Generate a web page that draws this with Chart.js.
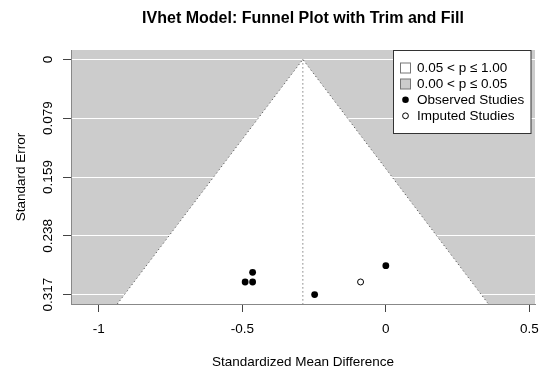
<!DOCTYPE html>
<html>
<head>
<meta charset="utf-8">
<script src="https://cdn.jsdelivr.net/npm/chart.js@4"></script>
<style>
  body { margin: 0; background: #fff; }
  #wrap { width: 550px; height: 375px; }
</style>
</head>
<body>
<div id="wrap"><canvas id="funnel"></canvas></div>
<script>
// datos
const observedSMD = [-0.490, -0.464, -0.464, -0.248, 0.000];
const observedSE = [0.300, 0.300, 0.287, 0.317, 0.278];
const imputedSMD = [-0.088];
const imputedSE = [0.300];
const estimate = -0.289;
const seTicks = [0, 0.07925, 0.1585, 0.23775, 0.317];
const seTickLabels = ['0', '0.079', '0.159', '0.238', '0.317'];
const smdTicks = [-1, -0.5, 0, 0.5];
const smdTickLabels = ['-1', '-0.5', '0', '0.5'];
const legendLabels = ['0.05 < p \u2264 1.00', '0.00 < p \u2264 0.05', 'Observed Studies', 'Imputed Studies'];

const seMin = -0.04 * 0.317;
const seMax = 1.04 * 0.317;
const xMin = -1.0965, xMax = 0.5195;
const shade = '#cccccc';

Chart.defaults.font.family = "'Liberation Sans', Arial, sans-serif";
Chart.defaults.font.size = 13.5;
Chart.defaults.color = '#000';

const fondoPlugin = {
  id: 'fondo',
  beforeDraw(chart) {
    const a = chart.chartArea, ctx = chart.ctx;
    ctx.save();
    ctx.fillStyle = shade;
    ctx.fillRect(a.left, a.top, a.right - a.left, a.bottom - a.top);
    ctx.restore();
  },
  afterDraw(chart) {
    const ctx = chart.ctx, y = chart.scales.y;
    ctx.save();
    // etiquetas del eje y giradas como en R
    ctx.fillStyle = '#000';
    ctx.font = "13.5px 'Liberation Sans', Arial, sans-serif";
    ctx.textAlign = 'center';
    ctx.textBaseline = 'middle';
    seTicks.forEach((v, i) => {
      ctx.save();
      ctx.translate(48, y.getPixelForValue(v));
      ctx.rotate(-Math.PI / 2);
      ctx.fillText(seTickLabels[i], 0, 0);
      ctx.restore();
    });

    // leyenda
    const lx = 393.5, ly = 50.5, lw = 137.5, lh = 83;
    ctx.fillStyle = '#fff';
    ctx.fillRect(lx, ly, lw, lh);
    ctx.strokeStyle = '#333';
    ctx.lineWidth = 1;
    ctx.strokeRect(lx, ly, lw, lh);
    const rows = [67.5, 83.5, 99.8, 115.8];
    ctx.textAlign = 'left';
    rows.forEach((ry, i) => {
      if (i < 2) {
        ctx.fillStyle = i === 0 ? '#fff' : shade;
        ctx.fillRect(400.5, ry - 4.5, 10, 10);
        ctx.strokeStyle = '#777';
        ctx.strokeRect(400.5, ry - 4.5, 10, 10);
      } else {
        ctx.beginPath();
        ctx.arc(405.5, ry, i === 2 ? 3.3 : 2.9, 0, Math.PI * 2);
        if (i === 2) { ctx.fillStyle = '#000'; ctx.fill(); }
        else { ctx.fillStyle = '#fff'; ctx.fill(); ctx.strokeStyle = '#000'; ctx.stroke(); }
      }
      ctx.fillStyle = '#000';
      ctx.fillText(legendLabels[i], 417, ry + 0.5);
    });
    ctx.restore();
  }
};

const half = 1.96 * seMax;

new Chart(document.getElementById('funnel'), {
  type: 'scatter',
  data: {
    datasets: [
      {
        // region del embudo
        type: 'line',
        data: [{x: estimate - half, y: seMax}, {x: estimate, y: 0}, {x: estimate + half, y: seMax}],
        fill: {value: seMax},
        backgroundColor: '#fff',
        borderColor: '#444',
        borderWidth: 1,
        borderDash: [1, 3],
        pointRadius: 0,
        tension: 0,
        order: 3
      },
      {
        type: 'line',
        data: [{x: estimate, y: 0}, {x: estimate, y: seMax}],
        borderColor: '#444',
        borderWidth: 1,
        borderDash: [1, 3],
        pointRadius: 0,
        fill: false,
        order: 2
      },
      {
        data: observedSMD.map((v, i) => ({x: v, y: observedSE[i]})),
        pointRadius: 3.4,
        pointBackgroundColor: '#000',
        pointBorderColor: '#000',
        pointBorderWidth: 0,
        order: 1
      },
      {
        data: imputedSMD.map((v, i) => ({x: v, y: imputedSE[i]})),
        pointRadius: 3.0,
        pointBackgroundColor: '#fff',
        pointBorderColor: '#000',
        pointBorderWidth: 1,
        order: 0
      }
    ]
  },
  options: {
    responsive: true,
    maintainAspectRatio: false,
    animation: false,
    layout: { padding: { top: 0, right: 15, bottom: 0, left: 0 } },
    plugins: {
      legend: { display: false },
      tooltip: { enabled: false },
      title: {
        display: true,
        text: 'IVhet Model: Funnel Plot with Trim and Fill',
        fullSize: false,
        font: { size: 16, weight: 'bold' },
        color: '#000',
        padding: { top: 9, bottom: 21.8 }
      }
    },
    scales: {
      x: {
        type: 'linear',
        min: xMin,
        max: xMax,
        z: 1,
        afterBuildTicks: s => { s.ticks = smdTicks.map(v => ({value: v})); },
        afterFit: s => { s.height = 71; },
        ticks: {
          padding: 9,
          callback: (v, i) => smdTickLabels[i]
        },
        grid: { drawOnChartArea: false, drawTicks: true, tickLength: 8, tickColor: '#444' },
        border: { display: true, color: '#888', width: 1 },
        title: { display: true, text: 'Standardized Mean Difference', padding: { top: 0, bottom: 5 } }
      },
      y: {
        type: 'linear',
        reverse: true,
        min: seMin,
        max: seMax,
        afterBuildTicks: s => { s.ticks = seTicks.map(v => ({value: v})); },
        afterFit: s => { s.width = 71; },
        ticks: { display: false },
        grid: { color: '#fff', lineWidth: 1, drawTicks: true, tickLength: 8, tickColor: '#444' },
        border: { display: true, color: '#888', width: 1 },
        title: { display: true, text: 'Standard Error', padding: { top: 13, bottom: 0 } }
      }
    }
  },
  plugins: [fondoPlugin]
});
</script>
</body>
</html>
